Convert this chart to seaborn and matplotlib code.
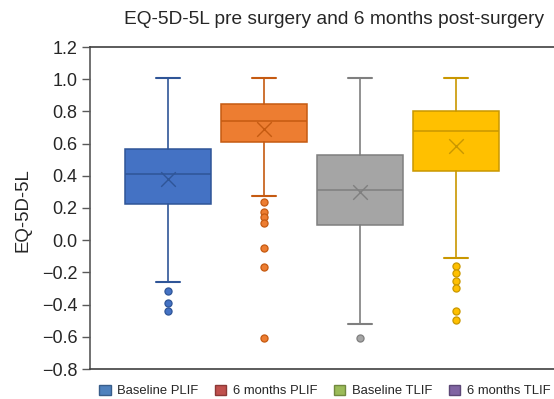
import matplotlib
matplotlib.use("Agg")
import matplotlib.pyplot as plt
import seaborn as sns
import pandas as pd
from matplotlib.patches import Patch

# ---- data ----
groups = ["Baseline PLIF", "6 months PLIF", "Baseline TLIF", "6 months TLIF"]
q1 = [0.225, 0.608, 0.093, 0.432]
medians = [0.409, 0.740, 0.310, 0.680]
q3 = [0.566, 0.846, 0.531, 0.800]
whisker_low = [-0.262, 0.275, -0.522, -0.112]
whisker_high = [1.01, 1.01, 1.01, 1.01]
means = [0.380, 0.690, 0.297, 0.585]
outliers_baseline_plif = [-0.316, -0.390, -0.438]
outliers_6m_plif = [0.238, 0.175, 0.142, 0.105, -0.047, -0.168, -0.607]
outliers_baseline_tlif = [-0.607]
outliers_6m_tlif = [-0.158, -0.202, -0.253, -0.295, -0.438, -0.497]
outliers = [outliers_baseline_plif, outliers_6m_plif, outliers_baseline_tlif, outliers_6m_tlif]

y_ticks = [1.2, 1.0, 0.8, 0.6, 0.4, 0.2, 0.0, -0.2, -0.4, -0.6, -0.8]

# ---- styles ----
fills = ["#4472C4", "#ED7D31", "#A5A5A5", "#FFC000"]
edges = ["#2F5597", "#C55A11", "#7F7F7F", "#C99700"]
legend_colors = ["#4F81BD", "#C0504D", "#9BBB59", "#8064A2"]
legend_edges = ["#385D8A", "#8C3836", "#71893F", "#5C4776"]

sns.set_theme(style="white")
plt.rcParams["font.family"] = ["Liberation Sans", "DejaVu Sans"]

fig = plt.figure(figsize=(5.54, 3.99), dpi=100)
ax = fig.add_axes([90 / 554, 1 - 369 / 399, 1 - 90 / 554, (369 - 47) / 399])

stats = []
for i, g in enumerate(groups):
    stats.append(dict(label=g, q1=q1[i], med=medians[i], q3=q3[i],
                      whislo=whisker_low[i], whishi=whisker_high[i],
                      mean=means[i], fliers=[]))

bp = ax.bxp(stats, positions=list(range(len(groups))), widths=0.9,
            patch_artist=True, showfliers=False, showmeans=False,
            manage_ticks=False)
for i in range(len(groups)):
    bp["boxes"][i].set_facecolor(fills[i])
    bp["boxes"][i].set_edgecolor(edges[i])
    bp["boxes"][i].set_linewidth(1.1)
    bp["medians"][i].set_color(edges[i])
    bp["medians"][i].set_linewidth(1.1)
    for w in bp["whiskers"][2 * i:2 * i + 2]:
        w.set_color(edges[i])
        w.set_linewidth(1.2)
    for c in bp["caps"][2 * i:2 * i + 2]:
        c.set_color(edges[i])
        c.set_linewidth(1.5)
        x0, x1 = c.get_xdata()
        cx = (x0 + x1) / 2
        c.set_xdata([cx - 0.13, cx + 0.13])

# outliers
rows = []
for i, g in enumerate(groups):
    for v in outliers[i]:
        rows.append({"pos": i, "group": g, "value": v})
df_out = pd.DataFrame(rows)
for i, g in enumerate(groups):
    sub = df_out[df_out["group"] == g]
    sns.scatterplot(data=sub, x="pos", y="value", ax=ax, color=fills[i],
                    edgecolor=edges[i], linewidth=0.9, s=26, zorder=4,
                    legend=False)

# means
df_mean = pd.DataFrame({"pos": list(range(len(groups))), "group": groups, "mean": means})
for i, g in enumerate(groups):
    sub = df_mean[df_mean["group"] == g]
    sns.scatterplot(data=sub, x="pos", y="mean", ax=ax, marker="x",
                    color=edges[i], s=110, linewidth=1.0, zorder=5,
                    legend=False)

ax.set_xlim((90 - 168) / 96, (554 - 168) / 96)
ax.set_ylim(-0.8, 1.2)
ax.set_yticks(y_ticks)
ax.set_yticklabels([f"{t:.1f}".replace("-", "\u2212") for t in y_ticks])
ax.set_xticks([])
ax.set_xlabel("")
ax.set_ylabel("")
ax.tick_params(axis="y", which="both", left=True, direction="out", length=6,
               width=1, color="#595959", labelsize=13, labelcolor="#262626", pad=3)
for s in ["left", "top", "bottom"]:
    ax.spines[s].set_visible(True)
    ax.spines[s].set_color("#404040")
    ax.spines[s].set_linewidth(1.2)
ax.spines["left"].set_color("#595959")
ax.spines["right"].set_visible(False)

fig.text(334 / 554, 1 - 20 / 399, "EQ-5D-5L pre surgery and 6 months post-surgery",
         ha="center", va="center", fontsize=13.8, color="#262626")
fig.text(23 / 554, 1 - 210 / 399, "EQ-5D-5L", rotation=90, ha="center", va="center",
         fontsize=13.4, color="#262626")

handles = [Patch(facecolor=legend_colors[i], edgecolor=legend_edges[i], label=g)
           for i, g in enumerate(groups)]
fig.legend(handles=handles, loc="center", bbox_to_anchor=(325 / 554, 1 - 391 / 399),
           ncol=4, frameon=False, fontsize=9.4, handlelength=0.85, handleheight=0.85,
           handletextpad=0.5, columnspacing=1.3, borderaxespad=0)

fig.savefig("out.png", dpi=100)
